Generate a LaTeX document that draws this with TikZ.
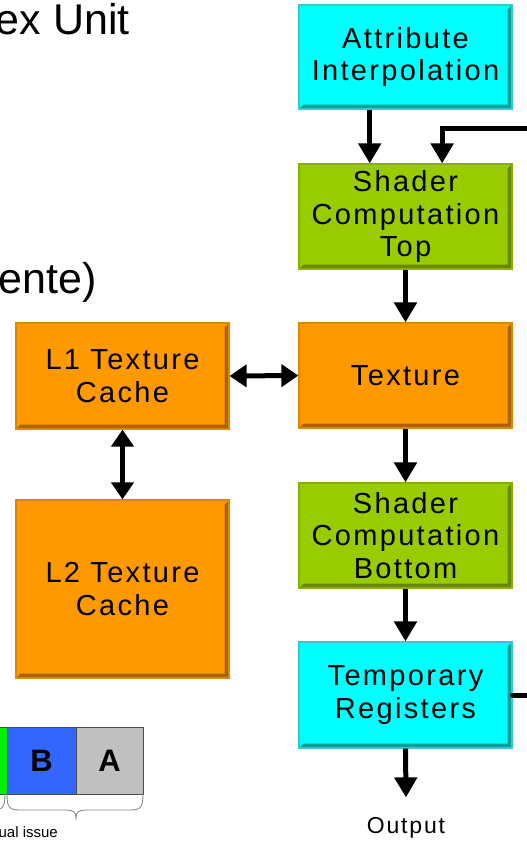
\documentclass[tikz,border=0pt]{standalone}
\usepackage{fontspec}
\setmainfont{Liberation Sans}
\newfontfamily\labelfont[LetterSpace=8]{Liberation Sans}
\usetikzlibrary{arrows.meta,calc}

\definecolor{cyanfill}{HTML}{00FFFF}
\definecolor{cyanedge}{HTML}{33CCCC}
\definecolor{cyanbevel}{HTML}{109A9A}
\definecolor{greenfill}{HTML}{99CC00}
\definecolor{greenedge}{HTML}{88B000}
\definecolor{greenbevel}{HTML}{668800}
\definecolor{orangefill}{HTML}{FF9900}
\definecolor{orangeedge}{HTML}{DD8800}
\definecolor{orangebevel}{HTML}{A86400}
\definecolor{slotgreen}{HTML}{00EE00}
\definecolor{slotblue}{HTML}{3366FF}
\definecolor{slotgray}{HTML}{C0C0C0}

\tikzset{
  bevel/.style={path picture={
    \fill[#1] (path picture bounding box.north east)
      -- ([xshift=-4.5pt,yshift=-4.5pt]path picture bounding box.north east)
      -- ([xshift=-4.5pt,yshift=4.5pt]path picture bounding box.south east)
      -- ([xshift=4.5pt,yshift=4.5pt]path picture bounding box.south west)
      -- (path picture bounding box.south west)
      -- (path picture bounding box.south east) -- cycle;}},
  blk/.style={rectangle, minimum width=213pt, inner sep=0pt, align=center,
    line width=1.2pt, font=\labelfont\fontsize{29}{32.5}\selectfont},
  cyanbox/.style={blk, fill=cyanfill, draw=cyanedge, bevel=cyanbevel},
  greenbox/.style={blk, fill=greenfill, draw=greenedge, bevel=greenbevel},
  orangebox/.style={blk, fill=orangefill, draw=orangeedge, bevel=orangebevel},
  conn/.style={line width=5pt, -{Triangle[width=22pt,length=20pt]}},
  biconn/.style={line width=5pt, {Triangle[width=22pt,length=17pt]}-{Triangle[width=22pt,length=17pt]}},
  slot/.style={rectangle, draw=black!70, line width=0.8pt, minimum height=67pt,
    inner sep=0pt, font=\bfseries\fontsize{31}{31}\selectfont},
  bracepath/.style={draw=black!45, line width=0.9pt},
}

\begin{document}
\begin{tikzpicture}[x=1pt,y=1pt]
  \useasboundingbox (0,0) rectangle (527,-841);
  \clip (0,0) rectangle (527,-841);

  % headings
  \node[anchor=base east, inner sep=0pt, font=\fontsize{43}{43}\selectfont] (head1) at (130,-34) {ex Unit};
  \node[anchor=base east, inner sep=0pt, font=\fontsize{43}{43}\selectfont] (head2) at (97,-293) {ente)};

  % pipeline column
  \node[cyanbox, minimum height=104pt] (attr) at (405.5,-57) {Attribute\\Interpolation};
  \node[greenbox, minimum height=105pt] (top) at (405.5,-216.5) {Shader\\Computation\\Top};
  \node[orangebox, minimum height=105pt] (tex) at (405.5,-375.5) {Texture};
  \node[greenbox, minimum height=105pt] (bot) at (405.5,-535.5) {Shader\\Computation\\Bottom};
  \node[cyanbox, minimum height=106pt] (reg) at (405.5,-695) {Temporary\\Registers};
  \node[inner sep=0pt, font=\labelfont\fontsize{23}{23}\selectfont] (out) at (406,-828) {Output};

  % texture caches
  \node[orangebox, minimum height=106pt] (l1) at (122.5,-376) {L1 Texture\\Cache};
  \node[orangebox, minimum height=178pt] (l2) at (122.5,-589) {L2 Texture\\Cache};

  % connectors
  \draw[conn] ($(attr.south west)!0.333!(attr.south east)$) -- ($(top.north west)!0.333!(top.north east)$);
  \draw[conn] (top.south) -- (tex.north);
  \draw[conn] (tex.south) -- (bot.north);
  \draw[conn] (bot.south) -- (reg.north);
  \draw[conn] (reg.south) -- ([yshift=20pt]out.north);
  \draw[biconn] (l1.east) -- (tex.west);
  \draw[biconn] (l1.south) -- (l2.north);

  % feedback loop
  \coordinate (fbout) at (545,-695);
  \coordinate (fbin) at (545,-128);
  \draw[line width=5pt, line cap=round] (reg.east) -- (fbout);
  \draw[conn] (fbin) -| ($(top.north west)!0.671!(top.north east)$);

  % issue slots
  \node[slot, fill=slotgreen, minimum width=67pt] (sg) at (-26.5,-760.5) {};
  \node[slot, fill=slotblue, minimum width=69pt] (sb) at (41.5,-760.5) {B};
  \node[slot, fill=slotgray, minimum width=67pt] (sa) at (109.5,-760.5) {A};

  % braces
  \draw[bracepath] (5,-794) .. controls (5,-807) and (3,-810) .. (-8,-810);
  \draw[bracepath] (7,-794) .. controls (7,-807) and (9,-810) .. (20,-810)
    -- (66,-810) .. controls (73,-810) and (76,-812) .. (76,-818)
    .. controls (76,-812) and (79,-810) .. (86,-810)
    -- (130,-810) .. controls (141,-810) and (143,-807) .. (143,-794);
  \node[anchor=base east, inner sep=0pt, font=\fontsize{15}{15}\selectfont] (issue) at (58,-837) {ual issue};
\end{tikzpicture}
\end{document}
